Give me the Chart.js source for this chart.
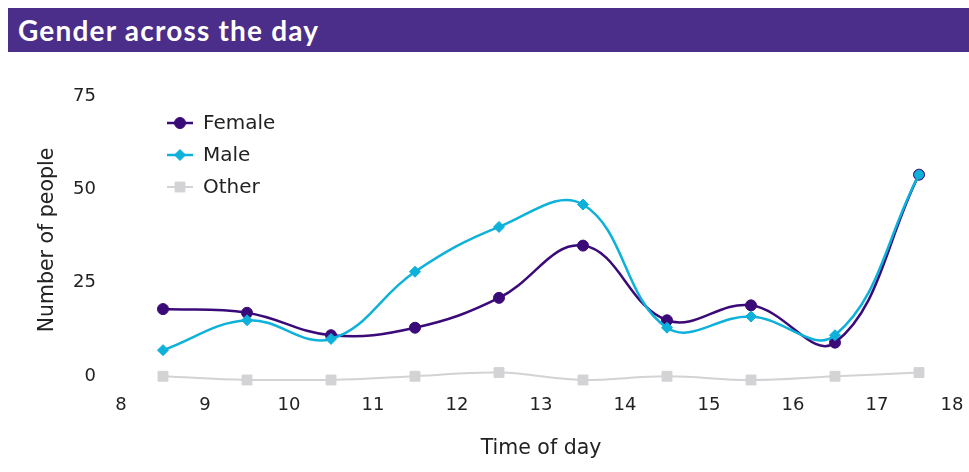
<!DOCTYPE html>
<html><head><meta charset="utf-8">
<script src="https://cdn.jsdelivr.net/npm/chart.js@4.4.1/dist/chart.umd.min.js"></script>
<style>
html,body{margin:0;padding:0;background:#fff;}
#wrap{position:relative;width:969px;height:472px;overflow:hidden;}
#title{position:absolute;left:8px;top:8px;width:961px;height:44px;background:#4B2D8A;color:#fff;font:bold 28px Lato, sans-serif;letter-spacing:1.2px;line-height:44px;padding-left:10px;box-sizing:border-box;z-index:2;}
canvas{position:absolute;left:0;top:0;}
</style></head><body>
<div id="wrap"><div id="title">Gender across the day</div><canvas id="c" width="969" height="472"></canvas></div>
<script>
const hours = [8.5, 9.5, 10.5, 11.5, 12.5, 13.5, 14.5, 15.5, 16.5, 17.5];
const female = [19, 18, 12, 14, 22, 36, 16, 20, 10, 55];
const male = [8, 16, 11, 29, 41, 47, 14, 17, 12, 55];
const other = [1, 0, 0, 1, 2, 0, 1, 0, 1, 2];
const seriesNames = ['Female', 'Male', 'Other'];
const xTickValues = [8, 9, 10, 11, 12, 13, 14, 15, 16, 17, 18];
const yTickValues = [0, 25, 50, 75];

const FONT = '"DejaVu Sans", sans-serif';
const pts = arr => arr.map((v, i) => ({x: hours[i], y: v}));

const legendPlugin = {
  id: 'inlineLegend',
  afterDraw(chart) {
    const ctx = chart.ctx, a = chart.chartArea;
    chart.data.datasets.forEach((ds, i) => {
      const y = a.top + 23 + i * 32, x0 = 167;
      ctx.save();
      ctx.strokeStyle = ds.borderColor; ctx.lineWidth = ds.borderWidth;
      ctx.beginPath(); ctx.moveTo(x0, y); ctx.lineTo(x0 + 26, y); ctx.stroke();
      ctx.fillStyle = ds.backgroundColor; ctx.strokeStyle = ds.borderColor; ctx.lineWidth = 1;
      Chart.helpers.drawPoint(ctx, {pointStyle: ds.legendStyle, rotation: 0, radius: ds.legendRadius, borderWidth: 1}, x0 + 13, y);
      ctx.fillStyle = '#222'; ctx.font = '20px ' + FONT; ctx.textBaseline = 'middle'; ctx.textAlign = 'left';
      ctx.fillText(ds.label, x0 + 36, y + 1);
      ctx.restore();
    });
  }
};

const lastX = xTickValues[xTickValues.length - 1];

new Chart(document.getElementById('c'), {
  type: 'line',
  data: {
    datasets: [
      {label: seriesNames[0], data: pts(female), borderColor: '#3A0B78', backgroundColor: '#3A0B78', borderWidth: 2.5,
       pointStyle: 'circle', pointRadius: 5.5, pointBorderWidth: 1, tension: 0.4, clip: false, order: 1, legendStyle: 'circle', legendRadius: 5.5},
      {label: seriesNames[1], data: pts(male), borderColor: '#0DB1DA', backgroundColor: '#0DB1DA', borderWidth: 2.5,
       pointStyle: ['rectRot','rectRot','rectRot','rectRot','rectRot','rectRot','rectRot','rectRot','rectRot','circle'],
       pointRadius: [5.5,5.5,5.5,5.5,5.5,5.5,5.5,5.5,5.5,4.5], pointBorderWidth: 1, tension: 0.4, clip: false, order: 0, legendStyle: 'rectRot', legendRadius: 5.5},
      {label: seriesNames[2], data: pts(other), borderColor: '#D3D3D5', backgroundColor: '#D3D3D5', borderWidth: 2,
       pointStyle: 'rect', pointRadius: 7, pointBorderWidth: 1, tension: 0.4, clip: false, order: 2, legendStyle: 'rect', legendRadius: 7}
    ]
  },
  options: {
    responsive: false, animation: false,
    layout: {padding: {top: 100, right: 8, bottom: 0, left: 0}},
    plugins: {legend: {display: false}, tooltip: {enabled: false}},
    scales: {
      x: {type: 'linear', min: 8, max: 18,
        afterBuildTicks: s => { s.ticks = xTickValues.map(v => ({value: v})); },
        afterFit: s => { s.height = 92; s.paddingLeft = 0; s.paddingRight = 0; },
        grid: {display: false, drawTicks: false}, border: {display: false},
        ticks: {padding: 15, color: '#222', font: {size: 18, family: FONT}, maxRotation: 0,
          callback: v => v === lastX ? v + '\u2003' : String(v)},
        title: {display: true, text: 'Time of day', color: '#222', font: {size: 20.5, family: FONT}, padding: {top: 0, bottom: 11}}
      },
      y: {min: 0, max: 75,
        afterBuildTicks: s => { s.ticks = yTickValues.map(v => ({value: v})); },
        afterFit: s => { s.width = 121; },
        grid: {display: false, drawTicks: false}, border: {display: false},
        ticks: {padding: 25, labelOffset: -4, color: '#222', font: {size: 18, family: FONT}},
        title: {display: true, text: 'Number of people', color: '#222', font: {size: 20.5, family: FONT}, padding: {top: 35, bottom: 0}}
      }
    }
  },
  plugins: [legendPlugin]
});
</script>
</body></html>
